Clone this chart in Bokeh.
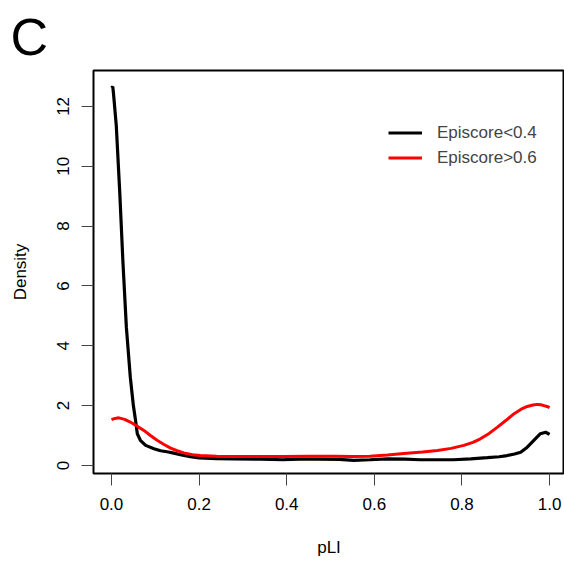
from bokeh.plotting import figure
from bokeh.models import Range1d, FixedTicker, NumeralTickFormatter, Legend, LegendItem
from bokeh.embed import file_html
from bokeh.resources import INLINE

# Data (density estimates)
x_low = [0.000, 0.003, 0.005, 0.011, 0.019, 0.026, 0.034, 0.043, 0.050, 0.055, 0.059, 0.066,
         0.078, 0.097, 0.112, 0.130, 0.142, 0.160, 0.180, 0.200, 0.24, 0.28, 0.34,
         0.39, 0.43, 0.47, 0.52, 0.553, 0.59, 0.63, 0.67, 0.705, 0.74, 0.78, 0.82, 0.858,
         0.885, 0.903, 0.92, 0.934, 0.949, 0.964, 0.979, 0.991, 1.0]
y_low = [12.62, 12.66, 12.37, 11.36, 9.1, 6.85, 4.62, 2.95, 2.0, 1.5, 1.06, 0.84,
         0.67, 0.56, 0.49, 0.45, 0.41, 0.35, 0.29, 0.25, 0.23, 0.22, 0.21,
         0.19, 0.21, 0.21, 0.20, 0.17, 0.19, 0.22, 0.21, 0.19, 0.19, 0.19, 0.22, 0.26,
         0.29, 0.33, 0.38, 0.44, 0.61, 0.84, 1.06, 1.11, 1.04]

x_high = [0.0, 0.008, 0.017, 0.03, 0.043, 0.058, 0.074, 0.089, 0.104, 0.12, 0.135, 0.15,
          0.165, 0.185, 0.203, 0.24, 0.28, 0.34, 0.39, 0.45, 0.51, 0.55, 0.59, 0.63,
          0.667, 0.71, 0.744, 0.775, 0.804, 0.825, 0.842, 0.862, 0.881, 0.90, 0.919,
          0.935, 0.949, 0.962, 0.972, 0.98, 0.987, 0.994, 1.0]
y_high = [1.53, 1.57, 1.59, 1.54, 1.45, 1.32, 1.17, 1.0, 0.84, 0.70, 0.58, 0.49,
          0.42, 0.36, 0.33, 0.31, 0.30, 0.30, 0.30, 0.31, 0.31, 0.30, 0.31, 0.35,
          0.40, 0.45, 0.50, 0.57, 0.67, 0.77, 0.89, 1.07, 1.28, 1.50, 1.73,
          1.88, 1.97, 2.02, 2.04, 2.03, 2.0, 1.97, 1.93]

x_ticks = [0.0, 0.2, 0.4, 0.6, 0.8, 1.0]
y_ticks = [0, 2, 4, 6, 8, 10, 12]
labels = ["Episcore<0.4", "Episcore>0.6"]
colors = ["black", "#ff0000"]

FONT = "Liberation Sans"

p = figure(width=564, height=565, output_backend="svg", toolbar_location=None,
           x_range=Range1d(-0.041, 1.034), y_range=Range1d(-0.27, 13.2),
           min_border_left=93, min_border_right=0, min_border_top=70, min_border_bottom=92,
           title="C")
p.grid.visible = False
p.outline_line_color = "black"
p.outline_line_width = 2
p.background_fill_color = "white"
p.border_fill_color = "white"

p.title.text_font = FONT
p.title.text_font_size = "52px"
p.title.text_font_style = "normal"
p.title.text_color = "black"
p.title.align = "left"
p.title.offset = -83
p.title.standoff = 10

r1 = p.line(x_low, y_low, line_color=colors[0], line_width=3.2)
r2 = p.line(x_high, y_high, line_color=colors[1], line_width=3)

for ax in (p.xaxis[0], p.yaxis[0]):
    ax.axis_line_color = None
    ax.major_tick_in = 0
    ax.major_tick_out = 12
    ax.major_tick_line_color = "#444444"
    ax.minor_tick_line_color = None
    ax.major_label_text_font = FONT
    ax.major_label_text_font_size = "17px"
    ax.major_label_text_color = "black"
    ax.axis_label_text_font = FONT
    ax.axis_label_text_font_size = "17px"
    ax.axis_label_text_font_style = "normal"
    ax.axis_label_text_color = "black"

p.xaxis.ticker = FixedTicker(ticks=x_ticks)
p.xaxis.formatter = NumeralTickFormatter(format="0.0")
p.xaxis.axis_label = "pLI"
p.xaxis.major_label_standoff = 12
p.xaxis.axis_label_standoff = 25

p.yaxis.ticker = FixedTicker(ticks=y_ticks)
p.yaxis.axis_label = "Density"
p.yaxis.major_label_orientation = "vertical"
p.yaxis.major_label_standoff = 12
p.yaxis.axis_label_standoff = 25

legend = Legend(items=[LegendItem(label=labels[0], renderers=[r1]),
                       LegendItem(label=labels[1], renderers=[r2])],
                location=(295, 303), padding=0, margin=0, spacing=0,
                border_line_color=None, background_fill_alpha=0,
                glyph_width=34, glyph_height=25, label_height=25, label_standoff=15,
                label_text_font=FONT, label_text_font_size="17px")
p.add_layout(legend, "center")

open("out.html", "w").write(file_html(p, INLINE))
